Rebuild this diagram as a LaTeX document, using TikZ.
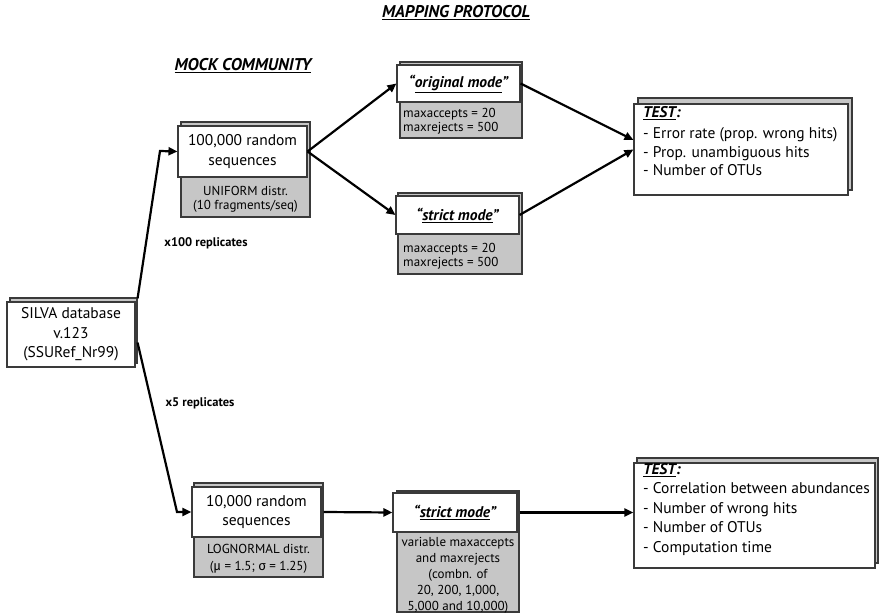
\documentclass[tikz,border=0pt]{standalone}
\usepackage{fontspec}
\setmainfont{PT Sans}
\newfontfamily\greekfont{Fira Sans}
\usepackage{xcolor}
\usetikzlibrary{arrows.meta,positioning,calc}
\definecolor{panelgray}{HTML}{C6C6C6}
\definecolor{edgegray}{HTML}{3A3A3A}

\begin{document}
\begin{tikzpicture}[x=1pt,y=-1pt,
  plate/.style={fill=panelgray, draw=edgegray, line width=1.1pt},
  front/.style={fill=white, draw=edgegray, line width=1.1pt, inner sep=0pt, align=center,
    font=\fontsize{15.5}{19.5}\selectfont},
  note/.style={font=\fontsize{13}{14}\selectfont, align=center, inner sep=0pt},
  link/.style={line width=2.2pt, -{Triangle[length=9pt,width=8pt]}},
  heading/.style={font=\fontsize{17}{19}\selectfont\bfseries\itshape, inner sep=0pt, anchor=base},
  reps/.style={font=\fontsize{12.5}{14}\selectfont\bfseries, inner sep=0pt},
  testlist/.style={font=\fontsize{15.5}{18.5}\selectfont, align=left, inner sep=0pt, anchor=north west}
]
\useasboundingbox (0,0) rectangle (879,615);

% Headings
\node[heading] (title) at (456,18) {\underline{MAPPING PROTOCOL}};
\node[heading] (mockhead) at (243,71) {\underline{MOCK COMMUNITY}};

% Source database
\draw[plate] (10,298) rectangle (137,363);
\node[front, minimum width=128pt, minimum height=65pt] (silva) at (71,334.5)
  {SILVA database\\v.123\\(SSURef\_Nr99)};

% Upper branch: uniform mock community
\draw[plate] (181,122) rectangle (310,217);
\node[note] (uniform) at (245.5,199.5) {UNIFORM distr.\\(10 fragments/seq)};
\node[front, minimum width=129pt, minimum height=51pt] (mock) at (242.5,151.5)
  {100,000 random\\sequences};

\draw[plate] (400,62) rectangle (522,138);
\node[note, anchor=west, align=left] (origpar) at (403,121) {maxaccepts = 20\\maxrejects = 500};
\node[front, minimum width=123pt, minimum height=37pt] (orig) at (458.5,83.5)
  {\bfseries\itshape ``\underline{original mode}''};

\draw[plate] (398,193) rectangle (522,274);
\node[note, anchor=west, align=left] (strictpar) at (403,256) {maxaccepts = 20\\maxrejects = 500};
\node[front, minimum width=123pt, minimum height=38pt] (strictA) at (457.5,215)
  {\bfseries\itshape ``\underline{strict mode}''};

\draw[plate] (638,98) rectangle (852,190);
\node[front, minimum width=214pt, minimum height=91pt] (testA) at (741,149.5) {};
\node[testlist] (testAtxt) at (643,106)
  {\textbf{\textit{\underline{TEST}:}}\\[3pt]- Error rate (prop. wrong hits)\\- Prop. unambiguous hits\\- Number of OTUs};

% Lower branch: lognormal mock community
\draw[plate] (194,483) rectangle (323,577);
\node[note, font=\fontsize{13}{17}\selectfont] (lognormal) at (258.5,558.5)
  {LOGNORMAL distr.\\({\greekfont μ} = 1.5; {\greekfont σ} = 1.25)};
\node[front, minimum width=129pt, minimum height=50pt] (lognorm) at (256.5,512)
  {10,000 random\\sequences};

\draw[plate] (397,491) rectangle (519,612);
\node[note, font=\fontsize{13}{16}\selectfont] (strictBpar) at (458,575)
  {variable maxaccepts\\and maxrejects\\(combn. of\\20, 200, 1,000,\\5,000 and 10,000)};
\node[front, minimum width=124pt, minimum height=39pt] (strictB) at (455,512.5)
  {\bfseries\itshape ``\underline{strict mode}''};

\draw[plate] (637,458) rectangle (878,563);
\node[front, minimum width=241pt, minimum height=105pt] (testB) at (754.5,515.5) {};
\node[testlist, font=\fontsize{15.5}{19.5}\selectfont] (testBtxt) at (643,463)
  {\textbf{\textit{\underline{TEST}:}}\\- Correlation between abundances\\- Number of wrong hits\\- Number of OTUs\\- Computation time};

% Replicate labels
\node[reps] (reps100) at (206,243) {x100 replicates};
\node[reps] (reps5) at (200,403) {x5 replicates};

% Connectors
\coordinate (upbend) at (160,151);
\coordinate (dnbend) at (177,512);
\draw[link] ([shift={(2,-3)}]silva.north east) -- (upbend) -- (mock.west);
\draw[link] ([shift={(2,8)}]silva.east) -- (dnbend) -- (lognorm.west);
\draw[link] (mock.east) -- (orig.west);
\draw[link] (mock.east) -- (strictA.west);
\draw[link] (orig.east) -- ([yshift=9.5pt]testA.west);
\draw[link] (strictA.east) -- (testA.west);
\draw[link] ([xshift=2pt]lognorm.east) -- (strictB.west);
\draw[link] ([xshift=2pt]strictB.east) -- (strictB.east -| testB.west);

\end{tikzpicture}
\end{document}
